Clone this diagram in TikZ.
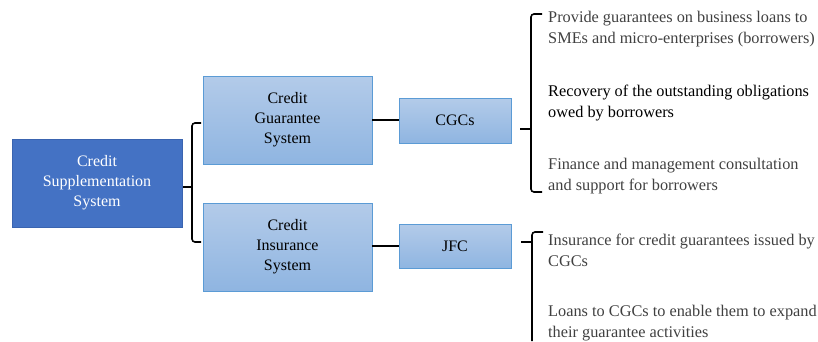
\documentclass[tikz,border=0pt]{standalone}
\usepackage{fontspec}
\setmainfont{Liberation Serif}
\newfontfamily\boxserif{Liberation Serif}
\begin{document}
\begin{tikzpicture}[x=1pt,y=-1pt,
  every node/.style={font=\boxserif\fontsize{16}{20}\selectfont},
  darkbox/.style={draw=darkbord,fill=darkfill,line width=0.8pt,text=white,align=center,inner sep=0pt},
  lightbox/.style={draw=lightbord,top color=lighttop,bottom color=lightbot,line width=0.8pt,text=black,align=center,inner sep=0pt},
  item/.style={anchor=west,align=left,inner sep=0pt,font=\boxserif\fontsize{16.3}{21}\selectfont},
  conn/.style={line width=1.8pt,black},
  brace/.style={line width=1.6pt,black,rounded corners=3pt}]
\definecolor{darkfill}{HTML}{4472C4}
\definecolor{darkbord}{HTML}{3A64B0}
\definecolor{lighttop}{HTML}{B3CBE9}
\definecolor{lightbot}{HTML}{8FB5E1}
\definecolor{lightbord}{HTML}{5B9BD5}
\definecolor{graytext}{HTML}{404040}
\useasboundingbox (0,0) rectangle (818,341);

\node[darkbox,minimum width=170pt,minimum height=88pt] (css) at (97,183) {Credit\\Supplementation\\System};
\node[lightbox,minimum width=169pt,minimum height=88pt] (cgs) at (287.5,120) {Credit\\Guarantee\\System};
\node[lightbox,minimum width=169pt,minimum height=88pt] (cis) at (287.5,247) {Credit\\Insurance\\System};
\node[lightbox,minimum width=112pt,minimum height=45pt] (cgc) at (455,120.5) {CGCs};
\node[lightbox,minimum width=112pt,minimum height=44pt] (jfc) at (455,246) {JFC};

\node[item,text=graytext] (t1) at (548,29) {Provide guarantees on business loans to\\SMEs and micro-enterprises (borrowers)};
\node[item,text=black] (t2) at (548,103) {Recovery of the outstanding obligations\\owed by borrowers};
\node[item,text=graytext] (t3) at (548,176) {Finance and management consultation\\and support for borrowers};
\node[item,text=graytext] (t4) at (548,250.5) {Insurance for credit guarantees issued by\\CGCs};
\node[item,text=graytext] (t5) at (548,323) {Loans to CGCs to enable them to expand\\their guarantee activities};

% connectors
\coordinate (c1) at (cgs.east |- 0,120);
\coordinate (c2) at (cgc.west |- 0,120);
\draw[conn] (c1) -- (c2);
\draw[conn] (jfc.west -| cis.east) -- (jfc.west);

% bracket 1
\coordinate (b1tip) at (183,187);
\coordinate (b1v) at (192,187);
\draw[conn] (b1tip) -- (b1v);
\draw[brace] (201,123) -- (192,123) -- (192,242) -- (201,242);

% bracket 2
\coordinate (b2tip) at (520,129);
\coordinate (b2v) at (531,129);
\draw[conn] (b2tip) -- (b2v);
\draw[brace] (542,14) -- (531,14) -- (531,192) -- (542,192);

% bracket 3
\coordinate (b3tip) at (521,242);
\coordinate (b3v) at (532,242);
\draw[conn] (b3tip) -- (b3v);
\draw[brace] (543,232) -- (532,232) -- (532,341);
\end{tikzpicture}
\end{document}
